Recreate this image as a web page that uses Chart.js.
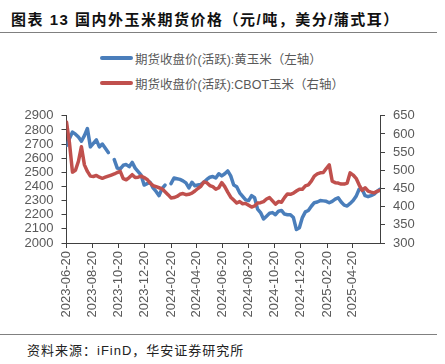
<!DOCTYPE html>
<html><head><meta charset="utf-8">
<script src="https://cdn.jsdelivr.net/npm/chart.js@4.4.1/dist/chart.umd.min.js"></script>
<style>
html,body{margin:0;padding:0;background:#fff;}
body{width:445px;height:364px;position:relative;overflow:hidden;font-family:"Liberation Sans","Noto Sans CJK SC",sans-serif;}
#title{position:absolute;left:11px;top:8px;font-size:15px;font-weight:bold;letter-spacing:1.5px;color:#111;white-space:nowrap;font-family:"Liberation Sans","Noto Sans CJK SC",sans-serif;}
#tline{position:absolute;left:0;top:32px;width:437px;height:0;border-top:1.5px solid #808080;}
.leg{position:absolute;left:100px;height:16px;display:flex;align-items:center;font-size:12.5px;color:#595959;white-space:nowrap;}
.leg .sw{display:inline-block;width:33px;height:4px;border-radius:2px;margin-right:2px;}
#chartbox{position:absolute;left:0;top:100px;width:445px;height:225px;}
#sline{position:absolute;left:0;top:334px;width:437px;height:0;border-top:1.5px solid #808080;}
#source{position:absolute;left:27px;top:340px;font-size:13px;letter-spacing:1px;color:#222;white-space:nowrap;}
</style></head>
<body>
<div id="title">图表 13 国内外玉米期货价格（元/吨，美分/蒲式耳）</div>
<div id="tline"></div>
<div class="leg" style="top:50px"><span class="sw" style="background:#4a7ebb"></span>期货收盘价(活跃):黄玉米（左轴）</div>
<div class="leg" style="top:75px"><span class="sw" style="background:#c0504d"></span>期货收盘价(活跃):CBOT玉米（右轴）</div>
<div id="chartbox"><canvas id="c" width="445" height="225"></canvas></div>
<div id="sline"></div>
<div id="source">资料来源：iFinD，华安证券研究所</div>
<script>
const dates = [
'2023-06-20','2023-06-27','2023-07-04','2023-07-11','2023-07-18','2023-07-25','2023-08-01','2023-08-08','2023-08-15','2023-08-22',
'2023-08-29','2023-09-05','2023-09-12','2023-09-19','2023-09-26','2023-10-03','2023-10-10','2023-10-17','2023-10-24','2023-10-31',
'2023-11-07','2023-11-14','2023-11-21','2023-11-28','2023-12-05','2023-12-12','2023-12-19','2023-12-26','2024-01-02','2024-01-09',
'2024-01-16','2024-01-23','2024-01-30','2024-02-06','2024-02-13','2024-02-20','2024-02-27','2024-03-05','2024-03-12','2024-03-19',
'2024-03-26','2024-04-02','2024-04-09','2024-04-16','2024-04-23','2024-04-30','2024-05-07','2024-05-14','2024-05-21','2024-05-28',
'2024-06-04','2024-06-11','2024-06-18','2024-06-25','2024-07-02','2024-07-09','2024-07-16','2024-07-23','2024-07-30','2024-08-06',
'2024-08-13','2024-08-20','2024-08-27','2024-09-03','2024-09-10','2024-09-17','2024-09-24','2024-10-01','2024-10-08','2024-10-15',
'2024-10-22','2024-10-29','2024-11-05','2024-11-12','2024-11-19','2024-11-26','2024-12-03','2024-12-10','2024-12-17','2024-12-24',
'2024-12-31','2025-01-07','2025-01-14','2025-01-21','2025-01-28','2025-02-04','2025-02-11','2025-02-18','2025-02-25','2025-03-04',
'2025-03-11','2025-03-18','2025-03-25','2025-04-01','2025-04-08','2025-04-15','2025-04-22','2025-04-29','2025-05-06','2025-05-13',
'2025-05-20','2025-05-27','2025-06-03','2025-06-10','2025-06-17','2025-06-24'];

// 期货收盘价(活跃):黄玉米 (元/吨, 左轴)
const dceCorn = [
2690,2740,2785,2770,2750,2720,2760,2810,2680,2705,
2730,2680,2700,2670,2640,null,2590,2530,2525,2550,
2555,2540,2570,2530,2505,2480,2410,2420,2430,2390,
2365,2335,2385,2410,null,2420,2460,2455,2450,2440,
2425,2390,2430,2405,2410,2415,2430,2450,2465,2470,
2460,2490,2475,2490,2510,2475,2410,2398,2355,2330,
2305,2300,2335,2320,2240,2215,2170,2190,2210,2215,
2200,2225,2230,2205,2200,2200,2180,2095,2108,2180,
2220,2230,2260,2285,2290,2300,2298,2295,2285,2295,
2310,2320,2290,2268,2262,2280,2300,2330,2380,2380,
2335,2328,2335,2345,2365,2380];

// 期货收盘价(活跃):CBOT玉米 (美分/蒲式耳, 右轴)
const cbotCorn = [
633,575,495,500,525,565,515,497,484,483,
486,481,478,481,484,487,490,494,497,477,
474,480,488,480,481,484,480,475,465,458,
455,452,449,441,433,424,425,428,434,436,
433,434,437,443,450,456,468,466,458,455,
448,452,466,455,440,426,418,410,414,408,
409,404,399,402,410,411,414,421,425,416,
407,414,412,425,435,434,437,443,448,448,
457,460,470,484,490,493,494,505,515,470,
466,465,462,462,465,493,487,478,460,445,
452,443,440,438,442,445];

const tickDates = ['2023-06-20','2023-08-20','2023-10-20','2023-12-20','2024-02-20','2024-04-20',
'2024-06-20','2024-08-20','2024-10-20','2024-12-20','2025-02-20','2025-04-20'];
const axisStart = '2023-06-20', axisEnd = '2025-06-24';
const leftTicks = {min:2000, max:2900, step:100};
const rightTicks = {min:300, max:650, step:50};

const dayOf = s => Math.round((Date.parse(s) - Date.parse(axisStart)) / 86400000);
const tickLabelByDay = {};
tickDates.forEach(d => { tickLabelByDay[dayOf(d)] = d; });

const axisColor = '#404040';
const labelColor = '#595959';
const tickFont = {family:'"Liberation Sans", Arial, sans-serif', size:13};

new Chart(document.getElementById('c'), {
  type:'line',
  data:{
    datasets:[
      {label:'期货收盘价(活跃):CBOT玉米（右轴）', yAxisID:'y1', order:0,
       data: dates.map((d,i)=>({x:dayOf(d), y:cbotCorn[i]})),
       borderColor:'#c0504d', borderWidth:3.5, pointRadius:0, tension:0,
       borderCapStyle:'round', borderJoinStyle:'round', spanGaps:false},
      {label:'期货收盘价(活跃):黄玉米（左轴）', yAxisID:'y', order:1,
       data: dates.map((d,i)=>({x:dayOf(d), y:dceCorn[i]})),
       borderColor:'#4a7ebb', borderWidth:3.5, pointRadius:0, tension:0,
       borderCapStyle:'round', borderJoinStyle:'round', spanGaps:false}
    ]
  },
  options:{
    responsive:false, animation:false, devicePixelRatio:1,
    layout:{padding:{top:12,left:0,right:0,bottom:0}},
    plugins:{legend:{display:false}, tooltip:{enabled:false}},
    scales:{
      x:{type:'linear', min:0, max:dayOf(axisEnd),
         afterBuildTicks: s => { s.ticks = tickDates.map(d => ({value: dayOf(d)})); },
         afterFit: s => { s.height = 82; },
         ticks:{autoSkip:false, minRotation:90, maxRotation:90, padding:3, color:labelColor, font:tickFont,
                callback: v => tickLabelByDay[v] ?? ''},
         grid:{drawOnChartArea:false, drawTicks:true, tickLength:5, color:axisColor},
         border:{display:true, color:axisColor, width:1}},
      y:{position:'left', min:leftTicks.min, max:leftTicks.max,
         afterFit: s => { s.width = 66.5; },
         ticks:{stepSize:leftTicks.step, autoSkip:false, padding:8, color:labelColor, font:tickFont,
                callback: v => String(v)},
         grid:{drawOnChartArea:false, drawTicks:true, tickLength:5, color:axisColor},
         border:{display:true, color:axisColor, width:1}},
      y1:{position:'right', min:rightTicks.min, max:rightTicks.max,
         afterFit: s => { s.width = 65; },
         ticks:{stepSize:rightTicks.step, autoSkip:false, padding:8, color:labelColor, font:tickFont,
                callback: v => String(v)},
         grid:{drawOnChartArea:false, drawTicks:true, tickLength:5, color:axisColor},
         border:{display:true, color:axisColor, width:1}}
    }
  }
});
</script>
</body></html>
